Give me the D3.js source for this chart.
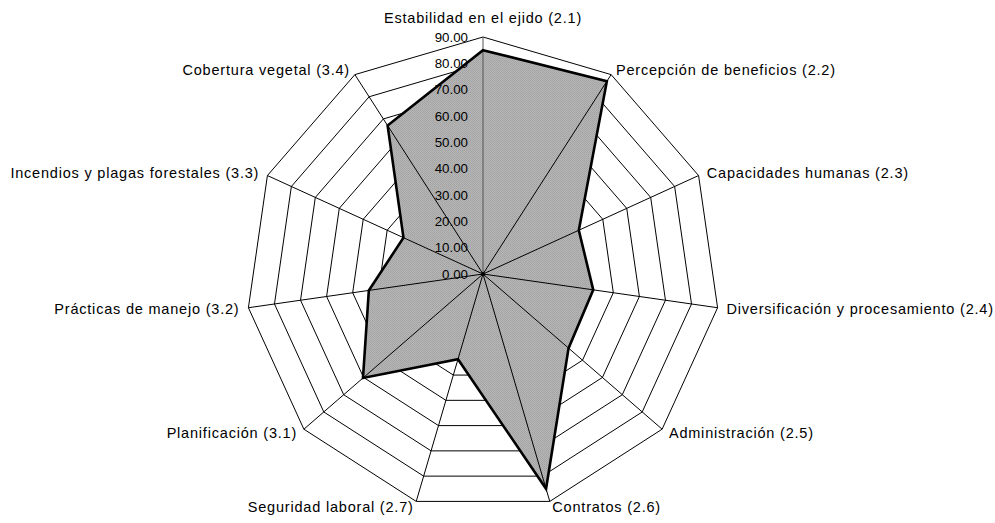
<!DOCTYPE html>
<html>
<head>
<meta charset="utf-8">
<script src="https://cdn.jsdelivr.net/npm/d3@7"></script>
<style>
  html, body { margin: 0; padding: 0; background: #fff; }
  svg { display: block; }
  text { font-family: Arial, "Liberation Sans", sans-serif; fill: #000; }
</style>
</head>
<body>
<svg id="chart" width="995" height="523"></svg>
<script>
// ---- data ----
const categories = [
  "Estabilidad en el ejido (2.1)",
  "Percepción de beneficios (2.2)",
  "Capacidades humanas (2.3)",
  "Diversificación y procesamiento (2.4)",
  "Administración (2.5)",
  "Contratos (2.6)",
  "Seguridad laboral (2.7)",
  "Planificación (3.1)",
  "Prácticas de manejo (3.2)",
  "Incendios y plagas forestales (3.3)",
  "Cobertura vegetal (3.4)"
];
const values = [85, 87, 40, 42.3, 43, 85, 33.7, 60.3, 43.8, 33.2, 67];
const tickValues = [0, 10, 20, 30, 40, 50, 60, 70, 80, 90];

// ---- layout ----
const svg = d3.select("#chart");
const cx = 483, cy = 274, R = 237;
const n = categories.length;
const r = d3.scaleLinear().domain([0, 90]).range([0, R]);
const angle = d3.scaleLinear().domain([0, n]).range([0, 2 * Math.PI]);
const px = (i, v) => cx + r(v) * Math.sin(angle(i));
const py = (i, v) => cy - r(v) * Math.cos(angle(i));

// dotted gray pattern
const defs = svg.append("defs");
const pat = defs.append("pattern").attr("id", "dots")
  .attr("width", 2).attr("height", 2).attr("patternUnits", "userSpaceOnUse");
pat.append("rect").attr("width", 2).attr("height", 2).attr("fill", "#b6b6b6");
pat.append("rect").attr("width", 1).attr("height", 1).attr("fill", "#a2a2a2");
pat.append("rect").attr("x", 1).attr("y", 1).attr("width", 1).attr("height", 1).attr("fill", "#a8a8a8");

const g = svg.append("g");

const ringLine = d3.line().x(d => d[0]).y(d => d[1]);
const ringPts = v => d3.range(n).map(i => [px(i, v), py(i, v)]);

// rings
g.selectAll("path.ring").data(tickValues.filter(t => t > 0)).enter()
  .append("path").attr("class", "ring")
  .attr("d", t => ringLine(ringPts(t)) + "Z")
  .attr("fill", "none").attr("stroke", "#000").attr("stroke-width", 1);

// data polygon fill
const dataPts = values.map((v, i) => [px(i, v), py(i, v)]);
g.append("path").attr("d", ringLine(dataPts) + "Z")
  .attr("fill", "url(#dots)").attr("stroke", "none");

// spokes
g.selectAll("line.spoke").data(d3.range(n)).enter()
  .append("line").attr("class", "spoke")
  .attr("x1", cx).attr("y1", cy)
  .attr("x2", i => px(i, 90)).attr("y2", i => py(i, 90))
  .attr("stroke", i => i === 0 ? "#555" : "#000").attr("stroke-width", 1);

// data outline
g.append("path").attr("d", ringLine(dataPts) + "Z")
  .attr("fill", "none").attr("stroke", "#000").attr("stroke-width", 2.6)
  .attr("stroke-linejoin", "miter");

// center dot
g.append("circle").attr("cx", cx).attr("cy", cy).attr("r", 2).attr("fill", "#000");

// tick labels
g.selectAll("text.tick").data(tickValues).enter()
  .append("text").attr("class", "tick")
  .attr("x", cx - 15).attr("y", t => cy - r(t))
  .attr("text-anchor", "end").attr("dominant-baseline", "central")
  .attr("font-size", 13.3)
  .text(t => d3.format(".2f")(t));

// category labels
g.selectAll("text.cat").data(categories).enter()
  .append("text").attr("class", "cat")
  .attr("font-size", 14.5).attr("letter-spacing", "0.8px")
  .each(function(d, i) {
    const a = angle(i), s = Math.sin(a), c = Math.cos(a);
    const t = d3.select(this);
    if (Math.abs(s) < 0.01) {
      t.attr("x", cx).attr("y", cy - R - 14.5).attr("text-anchor", "middle");
    } else {
      t.attr("x", cx + (R + 9) * s).attr("y", cy - (R + 6) * c)
        .attr("text-anchor", s > 0 ? "start" : "end")
        .attr("dominant-baseline", "central");
    }
  })
  .text(d => d);
</script>
</body>
</html>
